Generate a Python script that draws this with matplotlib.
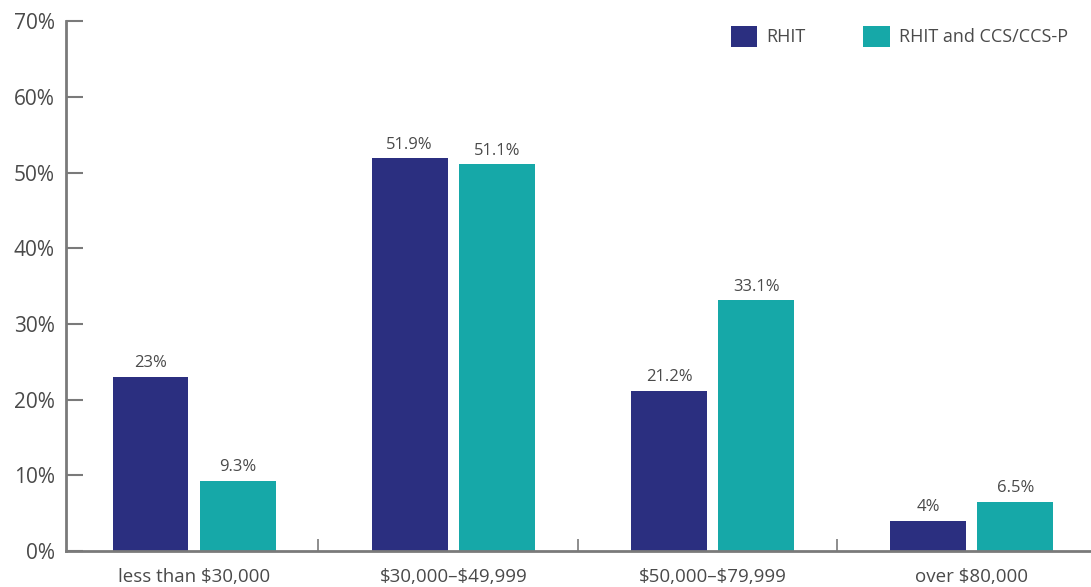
import numpy as np
import matplotlib
matplotlib.use("Agg")
import matplotlib.pyplot as plt
from matplotlib.patches import Patch

categories = ["less than \\$30,000", "\\$30,000\u2013\\$49,999", "\\$50,000\u2013\\$79,999", "over \\$80,000"]
rhit = [23, 51.9, 21.2, 4]
rhit_ccs = [9.3, 51.1, 33.1, 6.5]
rhit_labels = ["23%", "51.9%", "21.2%", "4%"]
ccs_labels = ["9.3%", "51.1%", "33.1%", "6.5%"]
series_names = ["RHIT", "RHIT and CCS/CCS-P"]

NAVY = "#2b2f80"
TEAL = "#16a8a8"
AXIS = "#7a7a7a"
TXT = "#4a4a4a"

plt.rcParams['font.family'] = ['Open Sans', 'DejaVu Sans']

fig = plt.figure(figsize=(10.91, 5.87), dpi=100)
ax = fig.add_axes([0.0605, 0.0613, 0.9395, 0.9027])

x = np.arange(len(categories))
w = 0.293
off = 0.168
b1 = ax.bar(x - off, rhit, w, color=NAVY, zorder=2)
b2 = ax.bar(x + off, rhit_ccs, w, color=TEAL, zorder=2)

for bars, labs in ((b1, rhit_labels), (b2, ccs_labels)):
    for b, lab in zip(bars, labs):
        ax.annotate(lab, (b.get_x() + b.get_width() / 2, b.get_height()),
                    xytext=(0, 4), textcoords="offset points",
                    ha="center", va="bottom", fontsize=12, color=TXT)

ax.set_ylim(0, 70)
ax.set_xlim(-0.494, 3.46)
ax.set_yticks(range(0, 71, 10))
ax.set_yticklabels([f"{v}%" for v in range(0, 71, 10)], fontsize=15, color=TXT)
ax.tick_params(axis="y", direction="in", length=12, width=1.5, color=AXIS, pad=8)

# category labels at group centres, small separator ticks between groups
ax.set_xticks(x)
ax.set_xticklabels(categories, fontsize=13.5, color=TXT)
ax.tick_params(axis="x", which="major", length=0, pad=12)
ax.set_xticks([0.48, 1.48, 2.48], minor=True)
ax.tick_params(axis="x", which="minor", direction="in", length=9, width=1.2, color=AXIS)

for s in ("top", "right"):
    ax.spines[s].set_visible(False)
for s in ("left", "bottom"):
    ax.spines[s].set_color(AXIS)
    ax.spines[s].set_linewidth(2)

handles = [Patch(facecolor=NAVY), Patch(facecolor=TEAL)]
leg = ax.legend(handles, series_names, loc="upper right", bbox_to_anchor=(0.993, 1.022),
                ncol=2, frameon=False, fontsize=13, handlelength=1.45, handleheight=1.4,
                columnspacing=3.2, handletextpad=0.5)
for t in leg.get_texts():
    t.set_color(TXT)

fig.savefig("out.png", dpi=100)
